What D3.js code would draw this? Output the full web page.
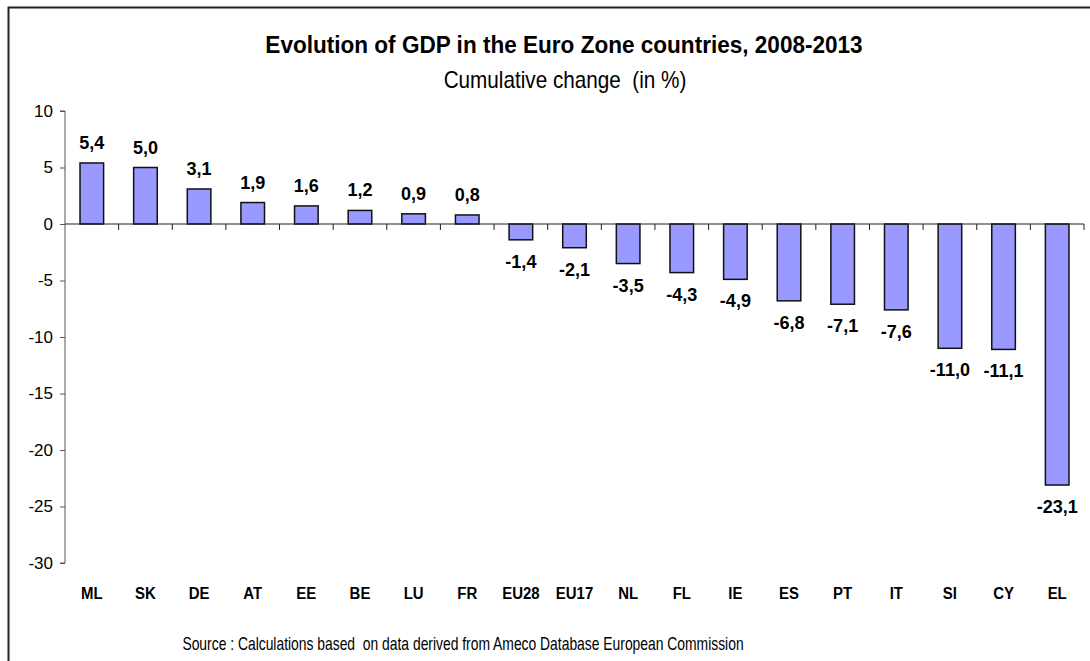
<!DOCTYPE html>
<html>
<head>
<meta charset="utf-8">
<script src="https://cdn.jsdelivr.net/npm/d3@7"></script>
<style>
  body { margin: 0; background: #fff; }
  svg { font-family: "Liberation Sans", Arial, sans-serif; }
</style>
</head>
<body>
<svg width="1090" height="661"></svg>
<script>
var countries = ["ML", "SK", "DE", "AT", "EE", "BE", "LU", "FR", "EU28", "EU17", "NL", "FL", "IE", "ES", "PT", "IT", "SI", "CY", "EL"];
var gdpChange = [5.4, 5.0, 3.1, 1.9, 1.6, 1.2, 0.9, 0.8, -1.4, -2.1, -3.5, -4.3, -4.9, -6.8, -7.1, -7.6, -11.0, -11.1, -23.1];
var yTicks = [10, 5, 0, -5, -10, -15, -20, -25, -30];

var svg = d3.select("svg");

// frame (top and left edge only)
svg.append("path")
    .attr("d", "M8.5,661 V7.5 H1090")
    .attr("fill", "none")
    .attr("stroke", "#222")
    .attr("stroke-width", 2);

var x = d3.scaleBand()
    .domain(countries)
    .range([65, 1084])
    .paddingInner(0.56)
    .paddingOuter(0.28);

var y = d3.scaleLinear()
    .domain([-30, 10])
    .range([563, 111]);

var fmt = function (v) { return d3.format(".1f")(v).replace(".", ",").replace("−", "-"); };

// narrow text helper: condensed look of the original
function squeezed(g, cx, cy, sx, txt) {
    return g.append("text")
        .attr("transform", "translate(" + cx + "," + cy + ") scale(" + sx + ",1)")
        .attr("text-anchor", "middle")
        .style("white-space", "pre")
        .text(txt);
}

// y axis
var yAxis = svg.append("g")
    .attr("transform", "translate(65,0)")
    .call(d3.axisLeft(y).tickValues(yTicks).tickSize(5).tickPadding(7).tickFormat(d3.format("d")));
yAxis.select(".domain").attr("stroke", "#555").attr("d", "M-5," + y(10) + "H0V" + y(-30) + "H-5");
yAxis.selectAll(".tick line").attr("stroke", "#555");
yAxis.selectAll(".tick text")
    .attr("font-size", 17)
    .attr("fill", "#000")
    .text(function (d) { return String(d).replace("−", "-"); });

// bars
svg.append("g")
    .selectAll("rect")
    .data(gdpChange)
    .enter().append("rect")
    .attr("x", (d, i) => x(countries[i]))
    .attr("width", x.bandwidth())
    .attr("y", d => y(Math.max(0, d)))
    .attr("height", d => Math.abs(y(d) - y(0)))
    .attr("fill", "#9999ff")
    .attr("stroke", "#111")
    .attr("stroke-width", 1.5);

// zero line with category ticks
var step = x.step();
var edges = d3.range(countries.length).map(i => 65 + step * (i + 1));
var zero = svg.append("g");
zero.append("line")
    .attr("x1", 65).attr("x2", 1084)
    .attr("y1", y(0)).attr("y2", y(0))
    .attr("stroke", "#222").attr("stroke-width", 1);
zero.selectAll("line.tk")
    .data(edges)
    .enter().append("line")
    .attr("class", "tk")
    .attr("x1", d => d).attr("x2", d => d)
    .attr("y1", y(0)).attr("y2", y(0) + 6)
    .attr("stroke", "#222");

// value labels
var vl = svg.append("g").attr("font-size", 19).attr("font-weight", "bold");
gdpChange.forEach(function (d, i) {
    squeezed(vl, x(countries[i]) + x.bandwidth() / 2, d >= 0 ? y(d) - 14 : y(d) + 28, 0.95, fmt(d));
});

// category labels
var cl = svg.append("g").attr("font-size", 17).attr("font-weight", "bold");
countries.forEach(function (c) {
    squeezed(cl, x(c) + x.bandwidth() / 2, 599, 0.88, c);
});

// titles
squeezed(svg, 564, 53, 0.94, "Evolution of GDP in the Euro Zone countries, 2008-2013")
    .attr("font-size", 24)
    .attr("font-weight", "bold");
squeezed(svg, 565, 88, 0.9, "Cumulative change  (in %)")
    .attr("font-size", 23);
squeezed(svg, 463, 650, 0.75, "Source : Calculations based  on data derived from Ameco Database European Commission")
    .attr("font-size", 18.5);
</script>
</body>
</html>
